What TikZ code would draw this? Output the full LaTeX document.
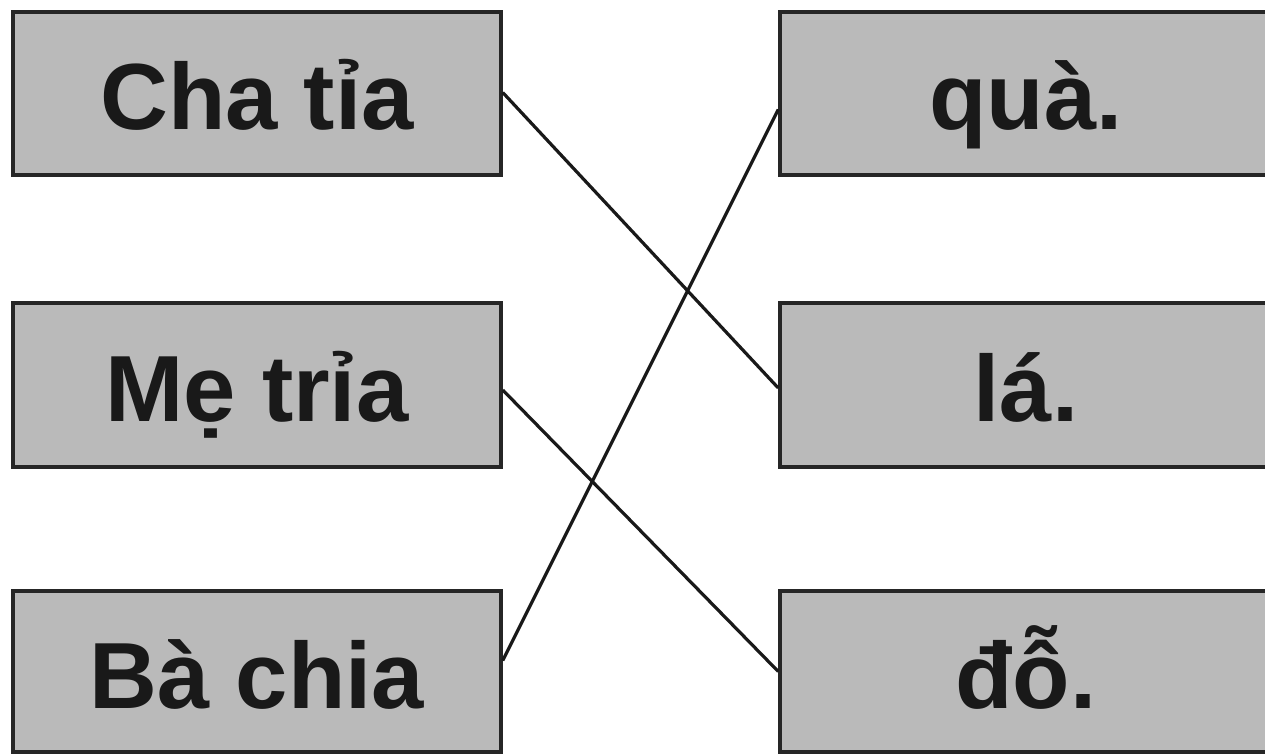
\documentclass[tikz,border=0pt]{standalone}
\usepackage{fontspec}
\setmainfont{Liberation Sans}
\begin{document}
\begin{tikzpicture}[x=1pt,y=-1pt,
  card/.style={draw=black!85, line width=3.5pt, fill=black!27, minimum width=488pt, inner sep=0pt,
    text height=73pt, text depth=0pt,
    font=\fontsize{94}{110}\selectfont\bfseries, text=black!90},
  link/.style={draw=black!90, line width=3.2pt}]
\useasboundingbox (0,0) rectangle (1265,754);
\clip (0,0) rectangle (1265,754);
\node[card, minimum height=163pt] (l1) at (257,93.5) {Cha tỉa};
\node[card, minimum height=164pt] (l2) at (257,385) {Mẹ trỉa};
\node[card, minimum height=161pt] (l3) at (257,671.5) {Bà chia};
\node[card, minimum height=163pt, minimum width=492pt] (r1) at (1026,93.5) {quà.};
\node[card, minimum height=164pt, minimum width=492pt] (r2) at (1026,385) {lá.};
\node[card, minimum height=161pt, minimum width=492pt] (r3) at (1026,671.5) {đỗ.};
\draw[link] ([yshift=1pt]l1.east) -- ([yshift=-3pt]r2.west);
\draw[link] ([yshift=-5pt]l2.east) -- (r3.west);
\draw[link] ([yshift=11pt]l3.east) -- ([yshift=-16pt]r1.west);
\end{tikzpicture}
\end{document}
